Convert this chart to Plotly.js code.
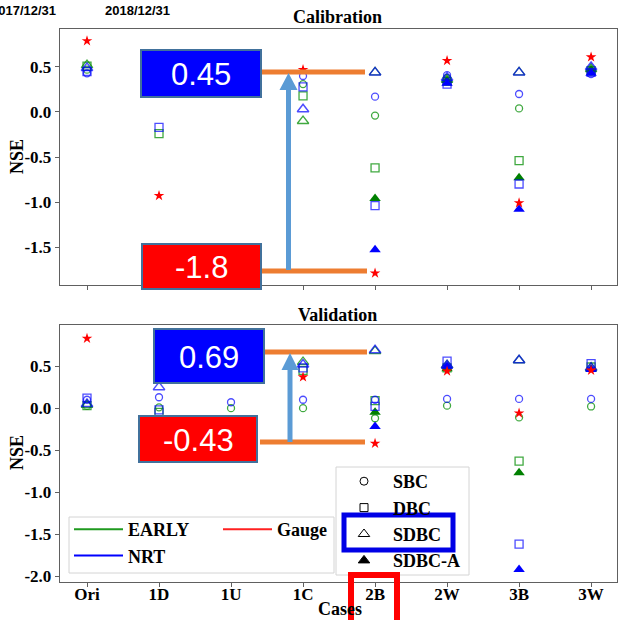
<!DOCTYPE html>
<html><head><meta charset="utf-8">
<script src="https://cdn.plot.ly/plotly-3.0.1.min.js"></script>
<style>body{margin:0;background:#fff}#chart{width:625px;height:620px}</style>
</head><body><div id="chart"></div>
<script>
const cases = ['Ori','1D','1U','1C','2B','2W','3B','3W'];

// Calibration NSE
const calGauge     = [0.79, -0.93, null, 0.47, -1.79, 0.57, -1.01, 0.61];
const calEarlySBC  = [0.47, null, null, 0.31, -0.04, 0.38, 0.04, 0.45];
const calNrtSBC    = [0.43, null, null, 0.40, 0.17, 0.41, 0.20, 0.42];
const calEarlyDBC  = [0.51, -0.24, null, 0.18, -0.62, 0.34, -0.54, 0.46];
const calNrtDBC    = [0.45, -0.17, null, 0.28, -1.04, 0.31, -0.80, 0.44];
const calEarlySDBC = [0.52, null, null, -0.10, 0.44, 0.36, 0.44, 0.48];
const calNrtSDBC   = [0.49, null, null, 0.03, 0.44, 0.38, 0.44, 0.50];
const calEarlySDBCA= [null, null, null, null, -0.96, 0.35, -0.73, 0.47];
const calNrtSDBCA  = [null, null, null, null, -1.53, 0.32, -1.08, 0.43];

// Validation NSE
const valGauge     = [0.83, null, null, 0.37, -0.42, 0.44, -0.06, 0.45];
const valEarlySBC  = [0.03, 0.01, 0.00, 0.00, -0.12, 0.03, -0.11, 0.02];
const valNrtSBC    = [0.10, 0.13, 0.07, 0.10, 0.10, 0.11, 0.11, 0.11];
const valEarlyDBC  = [0.03, -0.05, null, 0.45, 0.09, 0.48, -0.63, 0.49];
const valNrtDBC    = [0.12, -0.02, null, 0.48, 0.02, 0.56, -1.62, 0.53];
const valEarlySDBC = [0.04, null, null, 0.55, 0.68, 0.51, 0.57, 0.48];
const valNrtSDBC   = [0.05, 0.25, null, 0.52, 0.69, 0.51, 0.57, 0.48];
const valEarlySDBCA= [null, null, null, null, -0.05, 0.47, -0.77, 0.46];
const valNrtSDBCA  = [null, null, null, null, -0.22, 0.50, -1.92, 0.46];

const calTicks = [0.5, 0.0, -0.5, -1.0, -1.5];
const valTicks = [0.5, 0.0, -0.5, -1.0, -1.5, -2.0];

const productNames = ['EARLY', 'NRT'];
const methodNames = ['SBC', 'DBC', 'SDBC', 'SDBC-A'];
const gaugeName = 'Gauge';

const GREEN = '#1f9a1f', BLUE = '#0000ff', RED = '#ff2020';
const GREEN_OPEN = 'rgba(0,140,0,0.75)', BLUE_OPEN = 'rgba(0,0,255,0.7)';
const SERIF = 'Liberation Serif';

function pts(y, xa, ya, symbol, color, size, lw) {
  return {type:'scatter', mode:'markers', x:cases, y:y, xaxis:xa, yaxis:ya,
    showlegend:false, hoverinfo:'skip',
    marker:{symbol:symbol, color:color, size:size, line:{color:color, width:lw}}};
}
function panel(xa, ya, d) {
  return [
    pts(d[0], xa, ya, 'circle-open', GREEN_OPEN, 7, 1.3),
    pts(d[1], xa, ya, 'square-open', GREEN_OPEN, 8, 1.3),
    pts(d[2], xa, ya, 'triangle-up-open', GREEN_OPEN, 10, 1.3),
    pts(d[3], xa, ya, 'triangle-up', 'green', 10, 0),
    pts(d[4], xa, ya, 'circle-open', BLUE_OPEN, 7, 1.3),
    pts(d[5], xa, ya, 'square-open', BLUE_OPEN, 8, 1.3),
    pts(d[6], xa, ya, 'triangle-up-open', BLUE_OPEN, 10, 1.5),
    pts(d[7], xa, ya, 'triangle-up', BLUE, 10, 0),
    pts(d[8], xa, ya, 'star', 'red', 8, 0)
  ];
}
let traces = [];
traces = traces.concat(panel('x', 'y', [calEarlySBC, calEarlyDBC, calEarlySDBC, calEarlySDBCA,
  calNrtSBC, calNrtDBC, calNrtSDBC, calNrtSDBCA, calGauge]));
traces = traces.concat(panel('x2', 'y2', [valEarlySBC, valEarlyDBC, valEarlySDBC, valEarlySDBCA,
  valNrtSBC, valNrtDBC, valNrtSDBC, valNrtSDBCA, valGauge]));

// legend entries
function legLine(name, color, leg) {
  return {type:'scatter', mode:'lines', x:[null], y:[null], name:name, legend:leg,
    line:{color:color, width:2}, hoverinfo:'skip'};
}
function legMark(name, symbol, leg) {
  return {type:'scatter', mode:'markers', x:[null], y:[null], name:name, legend:leg,
    marker:{symbol:symbol, color:'black', size:symbol.indexOf('triangle')>=0?10:8, line:{color:'black', width:1}}, hoverinfo:'skip'};
}
traces.push(legLine(productNames[0], GREEN, 'legend'));
traces.push(legLine(productNames[1], BLUE, 'legend'));
traces.push(legLine(gaugeName, RED, 'legend3'));
traces.push(legMark(methodNames[0], 'circle-open', 'legend2'));
traces.push(legMark(methodNames[1], 'square-open', 'legend2'));
traces.push(legMark(methodNames[2], 'triangle-up-open', 'legend2'));
traces.push(legMark(methodNames[3], 'triangle-up', 'legend2'));

const W = 625, H = 620;
const px = v => v / W, py = v => 1 - v / H;

const tickFont = {family:SERIF, size:17, color:'black', weight:'bold'};
function yAxis(ticks, range, dom) {
  return {domain:dom, range:range, tickvals:ticks, ticktext:ticks.map(t => t.toFixed(1)),
    ticks:'outside', ticklen:4, tickcolor:'#606060', showline:true, mirror:true,
    linecolor:'#606060', linewidth:1.3, showgrid:false, zeroline:false, tickfont:tickFont, automargin:false};
}
function xAxis(dom, anchor, labels) {
  return {domain:dom, anchor:anchor, type:'category', categoryarray:cases, range:[-0.375, 7.36],
    ticks:'outside', ticklen:4, tickcolor:'#606060', showline:true, mirror:true,
    linecolor:'#606060', linewidth:1.3, showgrid:false, zeroline:false,
    showticklabels:labels, tickfont:tickFont, ticklabelstandoff:-8, automargin:false};
}

function rect(x0, y0, x1, y1, fill, line, lw) {
  return {type:'rect', xref:'paper', yref:'paper', x0:px(x0), x1:px(x1), y0:py(y1), y1:py(y0),
    fillcolor:fill, line:{color:line, width:lw}};
}
function seg(x0, y0, x1, y1, color, lw) {
  return {type:'line', xref:'paper', yref:'paper', x0:px(x0), x1:px(x1), y0:py(y0), y1:py(y1),
    line:{color:color, width:lw}};
}
function tri(xl, xr, yb, xt, yt, color) {
  return {type:'path', xref:'paper', yref:'paper',
    path:`M ${px(xl)},${py(yb)} L ${px(xr)},${py(yb)} L ${px(xt)},${py(yt)} Z`,
    fillcolor:color, line:{color:color, width:0}};
}
const ORANGE = '#ed7d31', ARROW = '#5b9bd5', BORDER = '#41719c';
const shapes = [
  // legend frames
  rect(69, 517, 334, 573, 'rgba(255,255,255,0.9)', '#d4d4d4', 1),
  rect(336, 467, 469, 575, 'rgba(255,255,255,0.9)', '#d4d4d4', 1),
  // calibration callouts
  seg(261, 72, 365, 72, ORANGE, 5),
  seg(261, 271, 367, 271, ORANGE, 5),
  seg(288.5, 270, 288.5, 89, ARROW, 5),
  tri(279.5, 297.5, 90, 288.5, 73, ARROW),
  rect(141, 50, 261, 97, '#0000ff', BORDER, 2),
  rect(142, 244, 261, 289, '#ff0000', BORDER, 2),
  // validation callouts
  seg(264, 352, 367, 352, ORANGE, 5),
  seg(260, 442, 365, 442, ORANGE, 5),
  seg(290, 442, 290, 369, ARROW, 5),
  tri(281.5, 298.5, 370, 290, 353, ARROW),
  rect(154, 329, 264, 383, '#0000ff', BORDER, 2),
  rect(139, 416, 257, 462, '#ff0000', BORDER, 2),
  // highlight boxes
  rect(344, 515, 453, 550, 'rgba(0,0,0,0)', '#0000e6', 5),
  rect(351, 575, 397, 630, 'rgba(0,0,0,0)', '#ff0000', 6)
];

function ann(text, x, y, font, extra) {
  return Object.assign({text:text, x:px(x), y:py(y), xref:'paper', yref:'paper', showarrow:false,
    xanchor:'center', yanchor:'middle', font:font}, extra || {});
}
const bigFont = {family:'Liberation Sans', size:31, color:'white'};
const titleFont = {family:SERIF, size:18, color:'black', weight:'bold'};
const dateFont = {family:'Liberation Sans', size:13, color:'black', weight:'bold'};
const annotations = [
  ann('0.45', 201, 74, bigFont),
  ann('-1.8', 201, 267, bigFont),
  ann('0.69', 209, 357, bigFont),
  ann('-0.43', 198, 440, bigFont),
  ann('Calibration', 338, 17, titleFont),
  ann('Validation', 338, 315, titleFont),
  ann('NSE', 17, 157, titleFont, {textangle:-90}),
  ann('NSE', 17, 453, titleFont, {textangle:-90}),
  ann('Cases', 340, 609, titleFont),
  ann('2017/12/31', 58, 11, dateFont, {xanchor:'right'}),
  ann('2018/12/31', 103, 11, dateFont, {xanchor:'left'})
];

const legFont = {family:SERIF, size:18, color:'black', weight:'bold'};
const layout = {
  width:W, height:H, margin:{l:0, r:0, t:0, b:0},
  paper_bgcolor:'white', plot_bgcolor:'white',
  xaxis: xAxis([px(60), px(617)], 'y', false),
  yaxis: yAxis(calTicks, [-1.922, 0.922], [py(285), py(29)]),
  xaxis2: xAxis([px(60), px(617)], 'y2', true),
  yaxis2: yAxis(valTicks, [-2.07, 0.99], [py(582), py(325)]),
  legend: {x:px(69), y:py(511), xanchor:'left', yanchor:'top', bgcolor:'rgba(0,0,0,0)',
    borderwidth:0, font:legFont, itemwidth:49, tracegroupgap:0},
  legend3: {x:px(218), y:py(511), xanchor:'left', yanchor:'top', bgcolor:'rgba(0,0,0,0)',
    borderwidth:0, font:legFont, itemwidth:49},
  legend2: {x:px(335), y:py(463), xanchor:'left', yanchor:'top', bgcolor:'rgba(0,0,0,0)',
    borderwidth:0, font:legFont, itemwidth:48},
  shapes: shapes,
  annotations: annotations,
  showlegend: true
};
Plotly.newPlot('chart', traces, layout, {displayModeBar:false, staticPlot:true});
</script>
</body></html>
